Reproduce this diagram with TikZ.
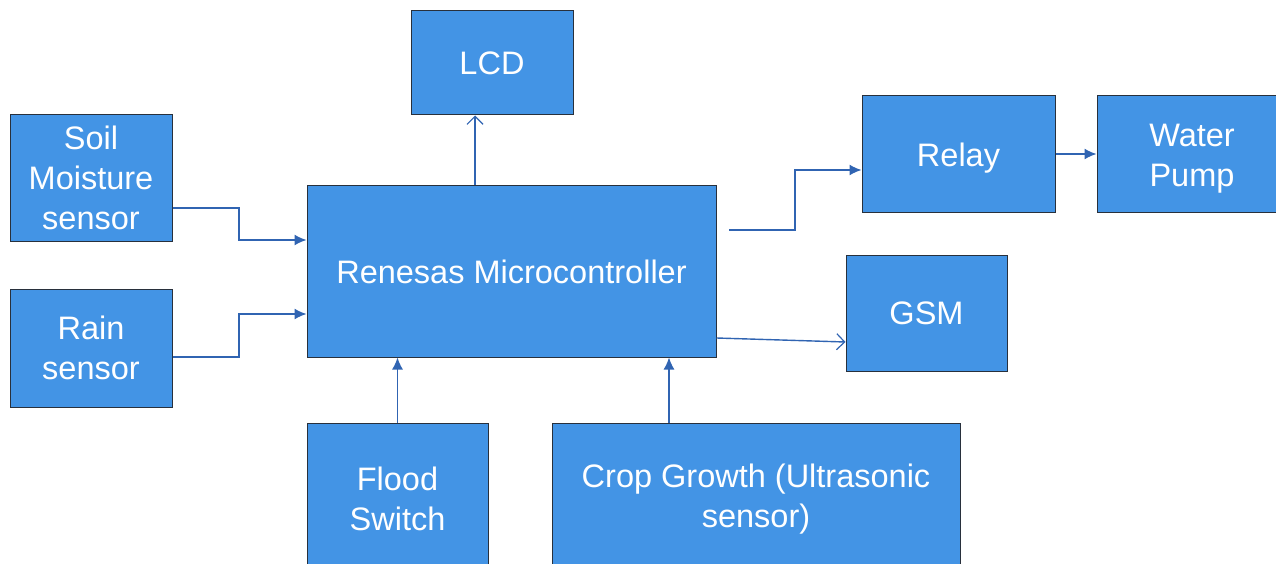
\documentclass[tikz,border=0pt]{standalone}
\usepackage{fontspec}
\setmainfont{Liberation Sans}
\usetikzlibrary{arrows.meta}
\definecolor{boxblue}{RGB}{67,148,229}
\definecolor{boxedge}{RGB}{40,48,60}
\definecolor{linkblue}{RGB}{48,100,178}
\newcommand{\lowstrut}{\rule{0pt}{31pt}}
\tikzset{
  blk/.style={draw=boxedge, fill=boxblue, text=white, line width=1pt,
    font=\fontsize{32.5}{40}\selectfont, align=center, inner sep=0pt},
  conn/.style={draw=linkblue, line width=1.4pt},
  solidtip/.style={-{Latex[length=12pt,width=11pt]}},
  opentip/.style={-{Straight Barb[length=8pt,width=16pt,line width=1.2pt]}}
}
\begin{document}
\begin{tikzpicture}[x=1pt,y=-1pt]
\useasboundingbox (0,0) rectangle (1276,564);
\clip (0,0) rectangle (1276,564);
\node[blk, minimum width=162pt, minimum height=104pt] (lcd) at (492,63) {LCD};
\node[blk, minimum width=162pt, minimum height=126pt] (soil) at (91,178) {Soil\\Moisture\\sensor};
\node[blk, minimum width=162pt, minimum height=118pt] (rain) at (91,348) {Rain\\sensor};
\node[blk, minimum width=409pt, minimum height=171pt] (mcu) at (511.5,271.5) {Renesas Microcontroller};
\node[blk, minimum width=193pt, minimum height=116pt] (relay) at (958.5,154) {\lowstrut Relay};
\node[blk, minimum width=190pt, minimum height=116pt] (pump) at (1192,154) {\lowstrut Water\\Pump};
\node[blk, minimum width=161pt, minimum height=116pt] (gsm) at (926.5,313) {GSM};
\node[blk, minimum width=181pt, minimum height=152pt] (flood) at (397.5,499) {Flood\\Switch};
\node[blk, minimum width=408pt, minimum height=152pt] (crop) at (756,499) {Crop Growth (Ultrasonic\\sensor)};
\coordinate (r0) at (729,230);
% connectors
\draw[conn,solidtip] ([yshift=-30pt]soil.east) -| (239,240) -- (mcu.west |- 239,240);
\draw[conn,solidtip] ([yshift=-9pt]rain.east) -| (239,314) -- (mcu.west |- 239,314);
\draw[conn,opentip] ([xshift=-17pt]lcd.south |- mcu.north) -- ([xshift=-17pt]lcd.south);
\draw[conn,solidtip] (r0) -| (795,170) -- (relay.west |- 795,170);
\draw[conn,opentip] (mcu.east |- 716,338) -- (gsm.west |- 846,342);
\draw[conn,solidtip] (relay.east) -- (pump.west);
\draw[conn,solidtip] (flood.north) -- (mcu.south -| flood.north);
\draw[conn,solidtip] ([xshift=-87pt]crop.north) -- (mcu.south -| 669,0);
\end{tikzpicture}
\end{document}
